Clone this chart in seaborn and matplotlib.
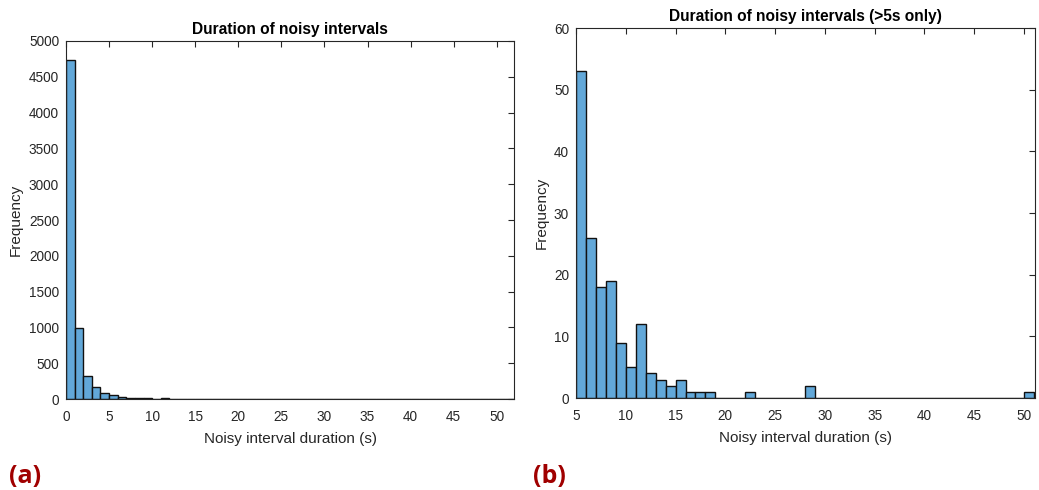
import numpy as np
import pandas as pd
import matplotlib
matplotlib.use("Agg")
import matplotlib.pyplot as plt
import seaborn as sns

# Left panel: histogram counts, bins of 1 s from 0 to 52
left_edges = list(range(0, 53))
left_counts = [4730, 985, 315, 162, 80, 53, 26, 18, 19, 9, 5, 12, 4, 3, 2, 3, 1, 1, 1, 0,
               0, 0, 1, 0, 0, 0, 0, 0, 2, 0, 0, 0, 0, 0, 0, 0, 0, 0, 0, 0,
               0, 0, 0, 0, 0, 0, 0, 0, 0, 0, 1, 0]

# Right panel: >5 s only, bins of 1 s from 5 to 51
right_edges = list(range(5, 52))
right_counts = [53, 26, 18, 19, 9, 5, 12, 4, 3, 2, 3, 1, 1, 1, 0, 0, 0, 1, 0, 0,
                0, 0, 0, 2, 0, 0, 0, 0, 0, 0, 0, 0, 0, 0, 0, 0, 0, 0, 0, 0,
                0, 0, 0, 0, 0, 1]

titles = ["Duration of noisy intervals", "Duration of noisy intervals (>5s only)"]
xlabel = "Noisy interval duration (s)"
ylabel = "Frequency"
panel_labels = ["(a)", "(b)"]

sns.set_style("white")
plt.rcParams['font.family'] = ['Liberation Sans', 'DejaVu Sans']

fill = "#62A8D9"
edge = "#111111"
grey = "#262626"

fig = plt.figure(figsize=(10.39, 4.90), dpi=100)
W, H = 1039, 490
axL = fig.add_axes([66 / W, 1 - 399 / H, (514 - 66) / W, (399 - 41) / H])
axR = fig.add_axes([576 / W, 1 - 398 / H, (1035 - 576) / W, (398 - 28) / H])


def draw(ax, edges, counts, xlim, ylim, yticks, title):
    e = np.array(edges, dtype=float)
    centers = (e[:-1] + e[1:]) / 2
    df = pd.DataFrame({"x": centers, "w": counts})
    sns.histplot(data=df, x="x", weights="w", bins=[float(v) for v in e], ax=ax,
                 color=fill, alpha=1.0, edgecolor=edge, linewidth=1.0)
    ax.set_xlim(*xlim)
    ax.set_ylim(*ylim)
    ax.set_yticks(yticks)
    ax.set_xticks(np.arange(xlim[0] if xlim[0] % 5 == 0 else 5, 51, 5))
    ax.tick_params(direction="in", top=True, right=True, length=4, width=0.8,
                   colors=grey, labelsize=9.8, labelcolor=grey)
    ax.tick_params(axis="x", pad=8)
    ax.tick_params(axis="y", pad=5)
    for s in ax.spines.values():
        s.set_color(grey)
        s.set_linewidth(0.8)
    ax.set_title(title, fontsize=11.2, fontweight="bold", color="black", pad=5)
    ax.set_xlabel(xlabel, fontsize=11, color=grey, labelpad=6)
    ax.set_ylabel(ylabel, fontsize=11, color=grey, labelpad=4)


draw(axL, left_edges, left_counts, (0, 52), (0, 5000), np.arange(0, 5001, 500), titles[0])
draw(axR, right_edges, right_counts, (5, 51.1), (0, 60), np.arange(0, 61, 10), titles[1])

fig.text(9 / W, 1 - 476 / H, panel_labels[0], fontsize=18, fontweight="bold",
         color="#A00000", va="center", ha="left", family=["Open Sans", "DejaVu Sans"])
fig.text(533 / W, 1 - 476 / H, panel_labels[1], fontsize=18, fontweight="bold",
         color="#A00000", va="center", ha="left", family=["Open Sans", "DejaVu Sans"])

fig.savefig("out.png", dpi=100)
